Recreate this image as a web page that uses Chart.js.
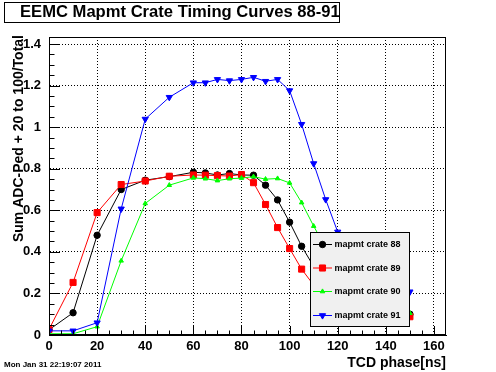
<!DOCTYPE html>
<html><head><meta charset="utf-8">
<script src="https://cdn.jsdelivr.net/npm/chart.js@4/dist/chart.umd.min.js"></script>
<style>html,body{margin:0;padding:0;background:#fff;}</style>
</head><body>
<canvas id="c" width="496" height="372"></canvas>
<script>
// ---- data ----
const phase   = [0,10,20,30,40,50,60,65,70,75,80,85,90,95,100,105,110,115,120,130,140,150];
const crate88 = [0.025,0.107,0.480,0.700,0.745,0.762,0.783,0.780,0.770,0.777,0.770,0.769,0.721,0.650,0.543,0.427,0.330,0.250,0.190,0.130,0.110,0.100];
const crate89 = [0.027,0.253,0.589,0.724,0.741,0.764,0.770,0.769,0.767,0.765,0.772,0.733,0.628,0.517,0.416,0.317,0.240,0.180,0.140,0.110,0.095,0.088];
const crate90 = [0.006,0.006,0.040,0.357,0.633,0.721,0.756,0.752,0.743,0.752,0.755,0.762,0.750,0.753,0.732,0.637,0.524,0.420,0.320,0.200,0.140,0.105];
const crate91 = [0.020,0.020,0.059,0.607,1.039,1.144,1.214,1.214,1.230,1.224,1.230,1.240,1.221,1.230,1.176,1.014,0.825,0.652,0.496,0.330,0.250,0.208];
const seriesNames = ['mapmt crate 88','mapmt crate 89','mapmt crate 90','mapmt crate 91'];
const xTickValues = [0,20,40,60,80,100,120,140,160];
const yTickValues = [0,0.2,0.4,0.6,0.8,1.0,1.2,1.4];
const titleText = 'EEMC Mapmt Crate Timing Curves 88-91';
const xTitle = 'TCD phase[ns]';
const yTitle = 'Sum ADC-Ped + 20 to 100/Total';
const dateText = 'Mon Jan 31 22:19:07 2011';

const FONT = '"Liberation Sans", Arial, Helvetica, sans-serif';
const pts = arr => phase.map((x,i)=>({x:x, y:arr[i]}));

const styles = [
  {color:'#000000', pointStyle:'circle',   radius:3.2, rotation:0},
  {color:'#ff0000', pointStyle:'rect',     radius:4.3, rotation:0},
  {color:'#00ff00', pointStyle:'triangle', radius:2.6, rotation:0},
  {color:'#0000ff', pointStyle:'triangle', radius:3.6, rotation:180}
];
const seriesData = [crate88, crate89, crate90, crate91];

const datasets = seriesData.map((arr,i)=>({
  label: seriesNames[i],
  data: pts(arr),
  borderColor: styles[i].color,
  backgroundColor: styles[i].color,
  borderWidth: 1,
  pointStyle: styles[i].pointStyle,
  pointRadius: styles[i].radius,
  pointRotation: styles[i].rotation,
  pointBackgroundColor: styles[i].color,
  pointBorderColor: styles[i].color,
  pointBorderWidth: 1,
  tension: 0,
  fill: false,
  order: 3 - i
}));

function drawMarker(ctx, st, x, y){
  if (Chart.helpers && Chart.helpers.drawPoint){
    ctx.fillStyle = st.color; ctx.strokeStyle = st.color; ctx.lineWidth = 1;
    Chart.helpers.drawPoint(ctx, {pointStyle: st.pointStyle, radius: st.radius, rotation: st.rotation, borderWidth:1}, x, y);
  }
}

const framePlugin = {
  id: 'rootFrame',
  afterDraw(chart){
    const ctx = chart.ctx, a = chart.chartArea;
    const xs = chart.scales.x, ys = chart.scales.y;
    ctx.save();
    // frame
    ctx.strokeStyle = '#000'; ctx.lineWidth = 1;
    ctx.strokeRect(Math.round(a.left)+0.5, Math.round(a.top)+0.5, Math.round(a.right-a.left)-1, Math.round(a.bottom-a.top)-1);
    // inside ticks on x axis
    ctx.beginPath();
    for (let v = 0; v <= 160.001; v += 5){
      const px = Math.round(xs.getPixelForValue(v)) + 0.5;
      const len = (Math.abs(v % 20) < 1e-6) ? 9 : 4.5;
      ctx.moveTo(px, a.bottom); ctx.lineTo(px, a.bottom - len);
    }
    // inside ticks on y axis
    for (let k = 0; k <= 28; k++){
      const v = k * 0.05;
      const py = Math.round(ys.getPixelForValue(v)) + 0.5;
      const len = (k % 4 === 0) ? 11 : 5.5;
      ctx.moveTo(a.left, py); ctx.lineTo(a.left + len, py);
    }
    ctx.stroke();

    // legend box
    const L = {x:310.5, y:232.5, w:99, h:94};
    ctx.fillStyle = '#f0f0f0';
    ctx.fillRect(L.x, L.y, L.w, L.h);
    ctx.strokeStyle = '#000';
    ctx.strokeRect(L.x, L.y, L.w, L.h);
    const rowY = [244, 267.5, 291, 315];
    ctx.font = 'bold 9px ' + FONT;
    ctx.textBaseline = 'middle';
    ctx.textAlign = 'left';
    chart.data.datasets.forEach((ds,i)=>{
      const st = styles[i];
      const y = rowY[i];
      ctx.strokeStyle = st.color; ctx.lineWidth = 1;
      ctx.beginPath(); ctx.moveTo(313, y+0.5); ctx.lineTo(332, y+0.5); ctx.stroke();
      drawMarker(ctx, st, 322.5, y+0.5);
      ctx.fillStyle = '#000';
      ctx.fillText(ds.label, 334.5, y+1);
    });

    // title box
    ctx.fillStyle = '#fff';
    ctx.fillRect(4.5, 2.5, 335, 20);
    ctx.strokeStyle = '#000'; ctx.lineWidth = 1;
    ctx.strokeRect(4.5, 2.5, 335, 20);
    ctx.fillStyle = '#000';
    ctx.font = 'bold 16.6px ' + FONT;
    ctx.textBaseline = 'alphabetic';
    ctx.textAlign = 'left';
    ctx.fillText(titleText, 20, 17);

    // x title
    ctx.font = 'bold 14px ' + FONT;
    ctx.textAlign = 'right';
    ctx.fillText(xTitle, 446, 367);

    // y title
    ctx.save();
    ctx.translate(23, 35);
    ctx.rotate(-Math.PI/2);
    ctx.textAlign = 'right';
    ctx.textBaseline = 'alphabetic';
    ctx.font = 'bold 14px ' + FONT;
    ctx.fillText(yTitle, 0, 0);
    ctx.restore();

    // date
    ctx.font = 'bold 8px ' + FONT;
    ctx.textAlign = 'left';
    ctx.fillText(dateText, 4, 367);
    ctx.restore();
  }
};

new Chart(document.getElementById('c'), {
  type: 'line',
  data: { datasets },
  plugins: [framePlugin],
  options: {
    responsive: false,
    devicePixelRatio: 1,
    animation: false,
    events: [],
    layout: { padding: {left:0, right:50, top:37, bottom:0} },
    plugins: { legend:{display:false}, title:{display:false}, tooltip:{enabled:false} },
    scales: {
      x: {
        type: 'linear', min: 0, max: 165,
        afterFit(s){ s.height = 37; },
        afterBuildTicks(s){ s.ticks = xTickValues.map(v=>({value:v})); },
        ticks: { includeBounds:false, stepSize:20, maxRotation:0, autoSkip:false, padding:4,
                 color:'#000', font:{family:FONT, size:13, weight:'bold'},
                 callback: v => String(v) },
        grid: { color:'#000', lineWidth:1, drawTicks:false },
        border: { display:true, color:'#000', width:1, dash:[1,2] }
      },
      y: {
        type: 'linear', min: 0, max: 1.434,
        afterFit(s){ s.width = 49; },
        afterBuildTicks(s){ s.ticks = yTickValues.map(v=>({value:v})); },
        ticks: { includeBounds:false, stepSize:0.2, autoSkip:false, padding:8,
                 color:'#000', font:{family:FONT, size:13, weight:'bold'},
                 callback: v => String(+(+v).toFixed(2)) },
        grid: { color:'#000', lineWidth:1, drawTicks:false },
        border: { display:true, color:'#000', width:1, dash:[1,2] }
      }
    }
  }
});
</script>
</body></html>
